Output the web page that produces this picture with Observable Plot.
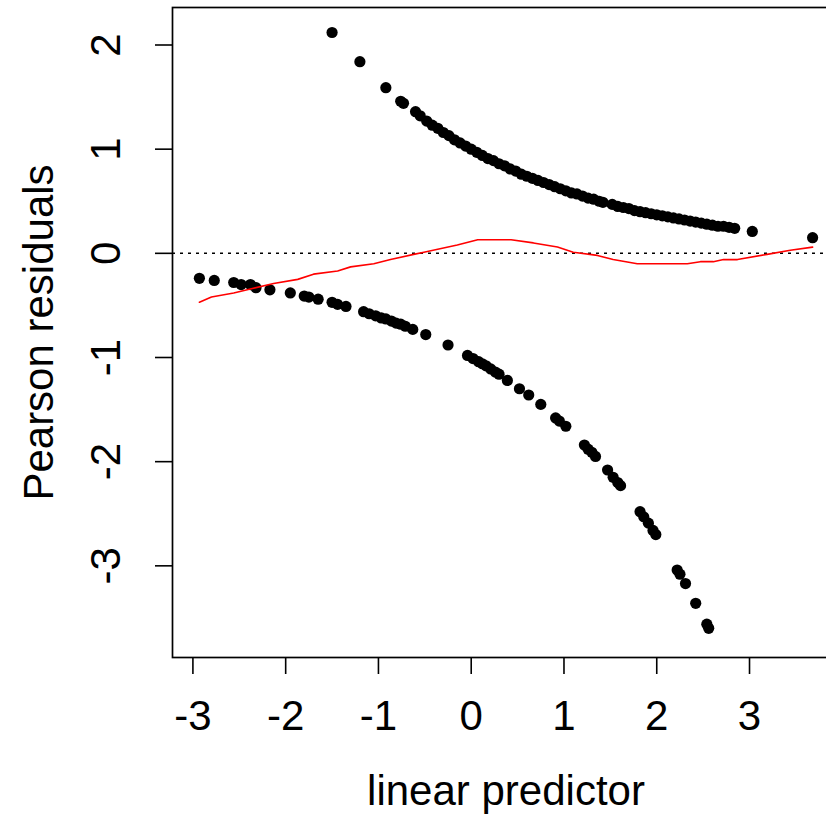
<!DOCTYPE html>
<html>
<head>
<meta charset="utf-8">
<script src="https://cdn.jsdelivr.net/npm/d3@7"></script>
<script src="https://cdn.jsdelivr.net/npm/@observablehq/plot@0.6"></script>
<style>
  html, body { margin: 0; padding: 0; background: #fff; }
  #chart { width: 826px; height: 815px; overflow: hidden; }
  #chart svg { overflow: hidden; }
</style>
</head>
<body>
<div id="chart"></div>
<script>
// Observations with y = 1 (upper branch): linear predictor and Pearson residual
const upperX = [-1.50, -1.20, -0.92, -0.76, -0.73, -0.60,
  -0.55, -0.48, -0.42, -0.36, -0.30, -0.24, -0.18, -0.12, -0.06, 0.00,
  0.06, 0.12, 0.18, 0.24, 0.30, 0.36, 0.42, 0.48, 0.54, 0.60,
  0.66, 0.72, 0.78, 0.84, 0.90, 0.96, 1.02, 1.08, 1.14, 1.20,
  1.26, 1.32, 1.38, 1.42, 1.52, 1.58, 1.64, 1.70, 1.76, 1.82,
  1.88, 1.94, 2.00, 2.06, 2.12, 2.18, 2.24, 2.30, 2.36, 2.42,
  2.48, 2.54, 2.60, 2.66, 2.72, 2.78, 2.84, 3.03, 3.68];
const upperY = [2.12, 1.84, 1.59, 1.46, 1.44, 1.36,
  1.32, 1.27, 1.23, 1.20, 1.16, 1.13, 1.09, 1.06, 1.03, 1.00,
  0.97, 0.94, 0.91, 0.89, 0.86, 0.84, 0.81, 0.79, 0.76, 0.74,
  0.72, 0.70, 0.68, 0.66, 0.64, 0.62, 0.60, 0.58, 0.57, 0.55,
  0.53, 0.52, 0.50, 0.49, 0.47, 0.45, 0.44, 0.43, 0.41, 0.40,
  0.39, 0.38, 0.37, 0.36, 0.35, 0.34, 0.33, 0.32, 0.31, 0.30,
  0.29, 0.28, 0.27, 0.26, 0.26, 0.25, 0.24, 0.21, 0.15];

// Observations with y = 0 (lower branch)
const lowerX = [-2.93, -2.77, -2.56, -2.48, -2.38, -2.32, -2.17, -1.95, -1.80, -1.75,
  -1.65, -1.50, -1.44, -1.35, -1.16, -1.10, -1.03, -0.97, -0.92, -0.86,
  -0.81, -0.76, -0.71, -0.63, -0.49, -0.25, -0.04, 0.02, 0.08, 0.12,
  0.16, 0.21, 0.26, 0.30, 0.39, 0.52, 0.62, 0.75, 0.91, 0.95,
  1.02, 1.22, 1.26, 1.30, 1.34, 1.47, 1.53, 1.58, 1.61, 1.82,
  1.86, 1.91, 1.96, 1.99, 2.22, 2.25, 2.31, 2.42, 2.54, 2.56];
const lowerY = [-0.24, -0.26, -0.28, -0.30, -0.30, -0.33, -0.35, -0.38, -0.41, -0.42,
  -0.44, -0.47, -0.49, -0.51, -0.56, -0.58, -0.60, -0.62, -0.63, -0.65,
  -0.67, -0.68, -0.70, -0.73, -0.78, -0.88, -0.98, -1.01, -1.04, -1.06,
  -1.08, -1.11, -1.14, -1.16, -1.22, -1.30, -1.36, -1.45, -1.58, -1.61,
  -1.66, -1.84, -1.88, -1.91, -1.95, -2.08, -2.15, -2.20, -2.23, -2.48,
  -2.53, -2.59, -2.66, -2.70, -3.04, -3.08, -3.17, -3.36, -3.56, -3.60];

// Smoother (red line)
const smoothX = [-2.93, -2.80, -2.56, -2.37, -2.13, -1.87, -1.70, -1.44, -1.30, -1.05,
  -0.87, -0.62, -0.51, -0.15, 0.07, 0.18, 0.43, 0.67, 0.93, 1.10,
  1.36, 1.53, 1.79, 2.33, 2.47, 2.61, 2.72, 2.87, 3.19, 3.44, 3.68];
const smoothY = [-0.47, -0.42, -0.38, -0.34, -0.29, -0.25, -0.20, -0.17, -0.13, -0.10,
  -0.06, -0.01, 0.01, 0.08, 0.13, 0.13, 0.13, 0.10, 0.06, 0.01,
  -0.02, -0.06, -0.10, -0.10, -0.08, -0.08, -0.06, -0.06, -0.01, 0.03, 0.06];

const xTicks = [-3, -2, -1, 0, 1, 2, 3];
const yTicks = [-3, -2, -1, 0, 1, 2];
const xTitle = "linear predictor";
const yTitle = "Pearson residuals";

const points = upperX.map((x, i) => ({x, y: upperY[i]}))
  .concat(lowerX.map((x, i) => ({x, y: lowerY[i]})));
const smooth = smoothX.map((x, i) => ({x, y: smoothY[i]}));

const FONT = "'Liberation Sans', Arial, Helvetica, sans-serif";
const FS = 42;

const chart = Plot.plot({
  width: 826,
  height: 815,
  marginLeft: 172,
  marginTop: 7,
  marginBottom: 158,
  marginRight: -13,
  style: {fontFamily: FONT, background: "white", color: "black"},
  x: {domain: [-3.22, 3.97]},
  y: {domain: [-3.88, 2.36]},
  marks: [
    Plot.ruleY([0], {stroke: "black", strokeWidth: 1.5, strokeDasharray: "3,5"}),
    Plot.dot(points, {x: "x", y: "y", r: 5.6, fill: "black", stroke: "none"}),
    Plot.line(smooth, {x: "x", y: "y", stroke: "#ff0000", strokeWidth: 1.6}),
    Plot.frame({stroke: "black", strokeWidth: 1.7}),
    Plot.axisX({ticks: xTicks, tickSize: 17, tickPadding: 26, fontSize: FS,
      tickFormat: d => String(d), strokeWidth: 1.6, label: null}),
    Plot.axisY({ticks: yTicks, tickSize: 17, tickFormat: () => "", strokeWidth: 1.6, label: null}),
    Plot.text(yTicks, {y: d => d, text: d => String(d), frameAnchor: "left", dx: -66,
      rotate: -90, textAnchor: "middle", lineAnchor: "middle", fontSize: FS}),
    Plot.text([xTitle], {text: d => d, frameAnchor: "bottom", dy: 134,
      textAnchor: "middle", lineAnchor: "middle", fontSize: FS}),
    Plot.text([yTitle], {text: d => d, frameAnchor: "left", dx: -133, rotate: -90,
      textAnchor: "middle", lineAnchor: "middle", fontSize: FS})
  ]
});
document.getElementById("chart").appendChild(chart);
</script>
</body>
</html>
